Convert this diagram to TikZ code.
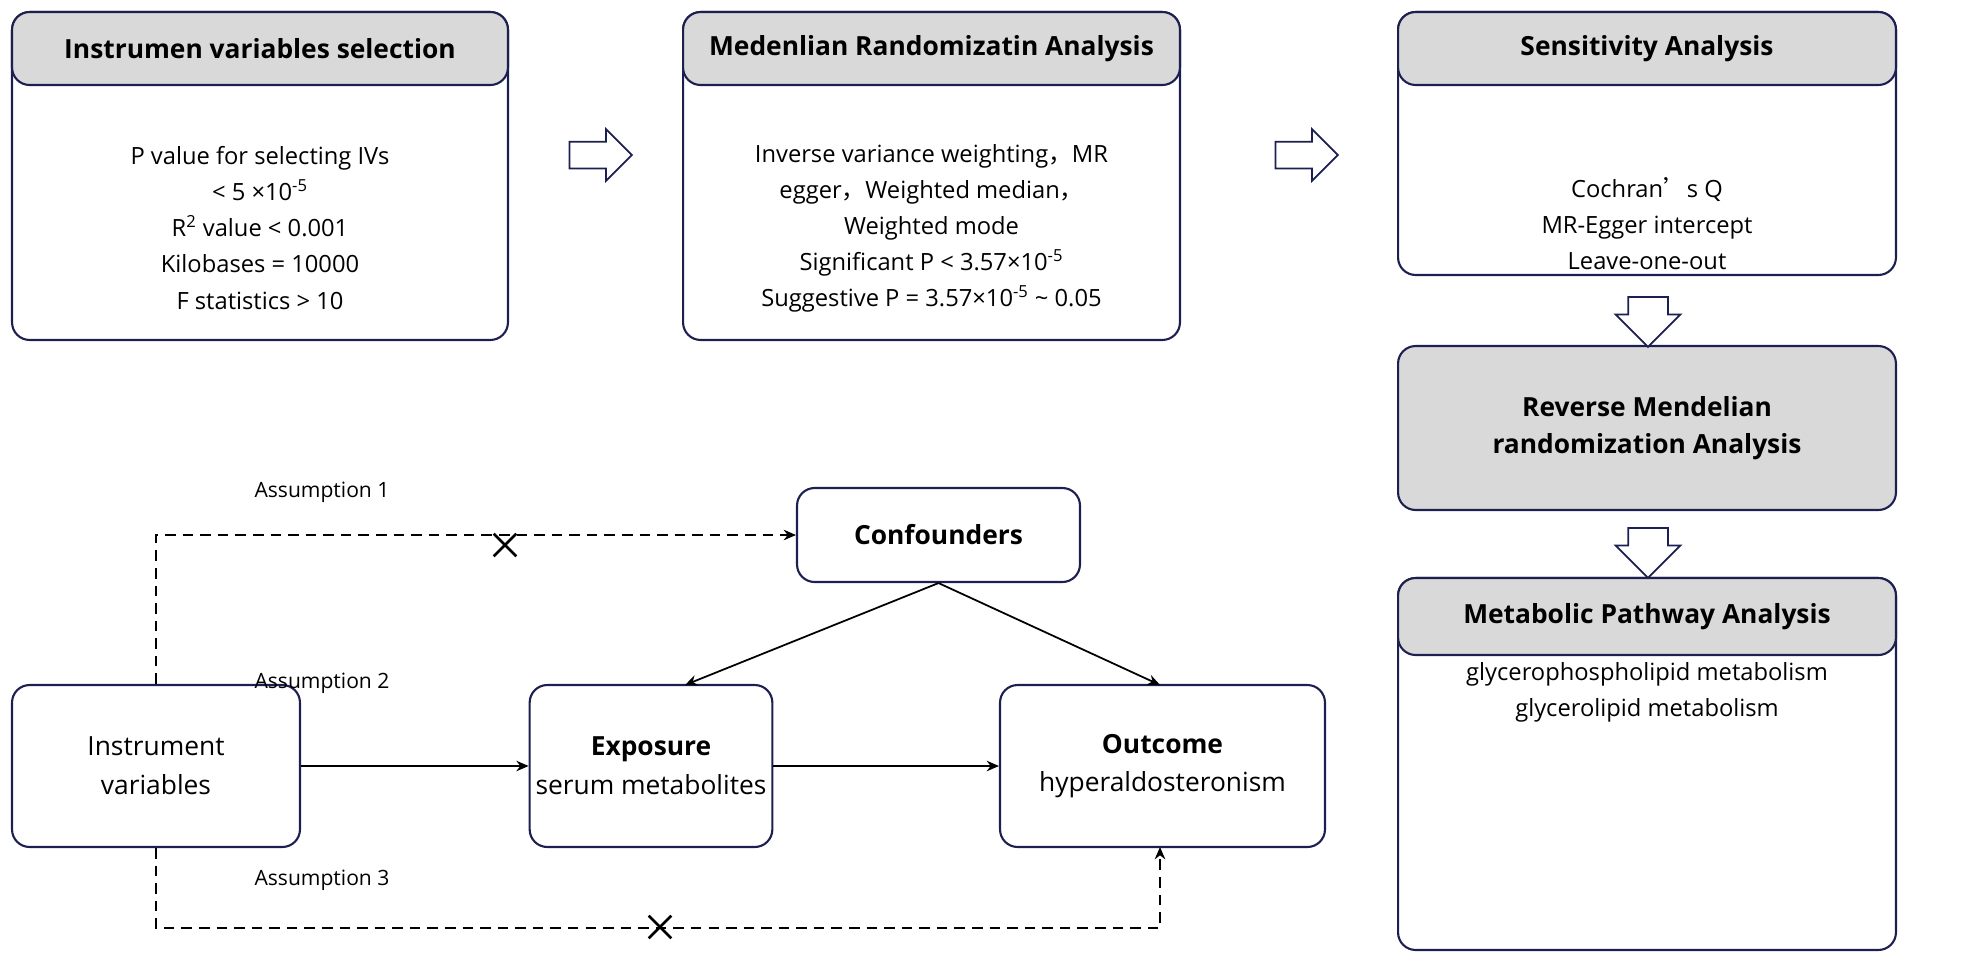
\documentclass[tikz,border=0pt]{standalone}
\usepackage{fontspec}
\setmainfont{Open Sans}
\newfontfamily\cjk{Noto Sans CJK SC}
\usetikzlibrary{arrows.meta,shapes.arrows,shapes.misc}
\definecolor{navy}{HTML}{1C2050}
\definecolor{headgray}{HTML}{D9D9D9}
\tikzset{
  panel/.style={draw=navy, line width=1.2pt, rounded corners=10pt, align=center, font=\fontsize{13.5}{20.5}\selectfont},
  head/.style={panel, fill=headgray, font=\fontsize{15}{21}\selectfont\bfseries},
  hollow/.style={single arrow, draw=navy, line width=1pt, fill=white, minimum height=1.25cm, single arrow head extend=0.25cm, inner xsep=0pt, inner ysep=0.25cm},
  link/.style={line width=1pt, -{Stealth[length=7pt,width=6pt]}},
  cut/.style={cross out, draw, line width=1.5pt, minimum size=0.4cm, inner sep=0pt},
  tag/.style={font=\fontsize{12}{14}\selectfont}
}
\begin{document}
\begin{tikzpicture}[x=0.02cm, y=-0.02cm]
  \useasboundingbox (0,0) rectangle (1984,978);
  % top row
  \node[panel, minimum width=9.92cm, minimum height=6.56cm] (ivbox) at (260,176) {};
  \node[head, minimum width=9.92cm, minimum height=1.46cm] (ivhead) at (260,48.5) {Instrumen variables selection};
  \node[panel, draw=none, fill=none] (ivtext) at (260,228) {P value for selecting IVs\\< 5 ×10\textsuperscript{-5}\\R\textsuperscript{2} value < 0.001\\Kilobases = 10000\\F statistics > 10};
  \node[panel, minimum width=9.94cm, minimum height=6.56cm] (mrbox) at (931.5,176) {};
  \node[head, minimum width=9.94cm, minimum height=1.46cm] (mrhead) at (931.5,48.5) {Medenlian Randomizatin Analysis};
  \node[panel, draw=none, fill=none] (mrtext) at (931.5,228) {Inverse variance weighting{\cjk ，}MR\\egger{\cjk ，}Weighted median{\cjk ，}\\Weighted mode\\Significant P < 3.57×10\textsuperscript{-5}\\Suggestive P = 3.57×10\textsuperscript{-5} \textasciitilde{} 0.05};
  \node[panel, minimum width=9.96cm, minimum height=5.26cm] (sabox) at (1647,143.5) {};
  \node[head, minimum width=9.96cm, minimum height=1.46cm] (sahead) at (1647,48.5) {Sensitivity Analysis};
  \node[panel, draw=none, fill=none] (satext) at (1647,224) {Cochran{\cjk ’}s Q\\MR-Egger intercept\\Leave-one-out};
  \node[head, minimum width=9.96cm, minimum height=3.28cm] (rmr) at (1647,428) {Reverse Mendelian\\randomization Analysis};
  \node[panel, minimum width=9.96cm, minimum height=7.44cm] (pwbox) at (1647,764) {};
  \node[head, minimum width=9.96cm, minimum height=1.54cm] (pwhead) at (1647,616.5) {Metabolic Pathway Analysis};
  \node[panel, draw=none, fill=none] (pwtext) at (1647,692) {glycerophospholipid metabolism\\glycerolipid metabolism};
  % hollow arrows
  \node[hollow] (a1) at (594,155) {};
  \node[hollow] (a2) at (1300,155) {};
  \node[hollow, minimum height=1cm, inner ysep=0.38cm, rotate=-90] (a3) at (1648,312) {};
  \node[hollow, minimum height=1cm, inner ysep=0.38cm, rotate=-90] (a4) at (1648,543) {};
  % causal diagram
  \node[panel, minimum width=5.66cm, minimum height=1.88cm, font=\fontsize{15}{20}\selectfont\bfseries] (conf) at (938.5,535) {Confounders};
  \node[panel, minimum width=5.76cm, minimum height=3.24cm, font=\fontsize{15}{22}\selectfont] (inst) at (156,766) {Instrument\\variables};
  \node[panel, minimum width=4.76cm, minimum height=3.24cm, font=\fontsize{15}{22}\selectfont] (expo) at (651,766) {\textbf{Exposure}\\serum metabolites};
  \node[panel, minimum width=6.5cm, minimum height=3.24cm, font=\fontsize{15}{22}\selectfont] (outc) at (1162.5,766) {\textbf{Outcome}\\hyperaldosteronism};
  \coordinate (expin) at (685,685);
  \coordinate (outin) at (1160,685);
  \coordinate (outbot) at (1160,847);
  \draw[link] (conf.south) -- (expin);
  \draw[link] (conf.south) -- (outin);
  \draw[link] (inst) -- (expo);
  \draw[link] (expo) -- (outc);
  \draw[link, dash pattern=on 6pt off 4pt] (inst.north) |- (conf.west);
  \draw[link, dash pattern=on 6pt off 4pt] (inst.south) -- ++(0,80) -| (outbot);
  \node[cut] (x1) at (505,545) {};
  \node[cut] (x2) at (660,927) {};
  \node[tag] (as1) at (322,492) {Assumption 1};
  \node[tag] (as2) at (322,683) {Assumption 2};
  \node[tag] (as3) at (322,880) {Assumption 3};
\end{tikzpicture}
\end{document}
